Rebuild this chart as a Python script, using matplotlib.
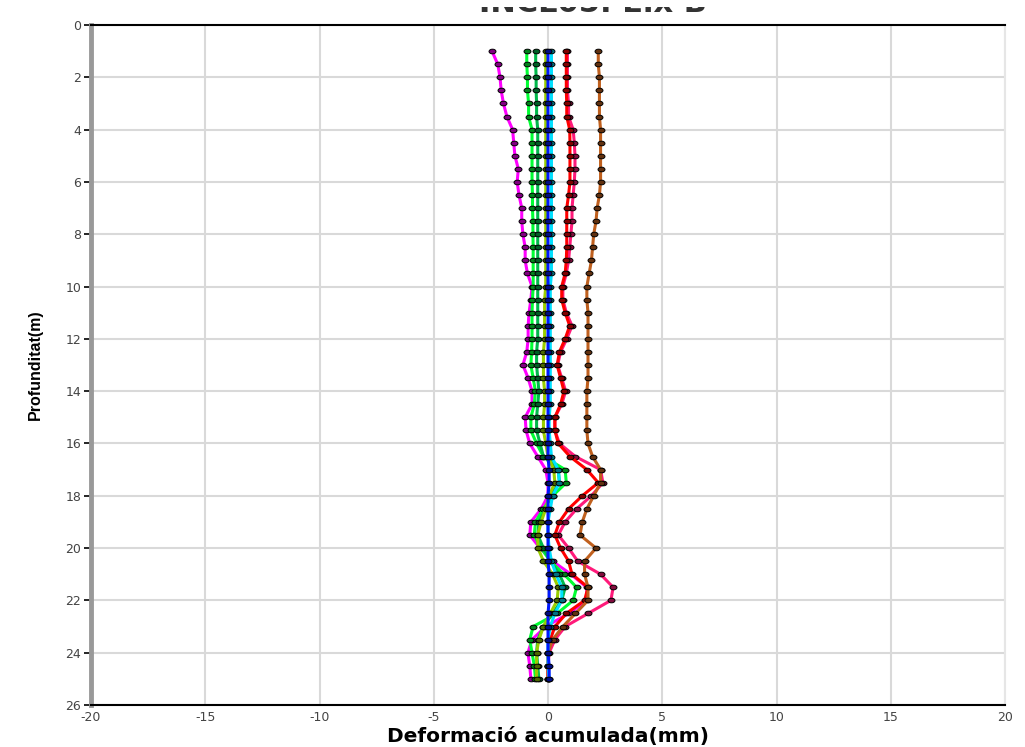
import matplotlib

matplotlib.use("Agg")
import matplotlib.pyplot as plt
from matplotlib.colors import to_rgb
from matplotlib.patches import Rectangle
from matplotlib.path import Path
from matplotlib.transforms import Affine2D

plt.rcParams["axes.unicode_minus"] = False

depths = [1.0, 1.5, 2.0, 2.5, 3.0, 3.5, 4.0, 4.5, 5.0, 5.5, 6.0, 6.5, 7.0, 7.5,
          8.0, 8.5, 9.0, 9.5, 10.0, 10.5, 11.0, 11.5, 12.0, 12.5, 13.0, 13.5,
          14.0, 14.5, 15.0, 15.5, 16.0, 16.5, 17.0, 17.5, 18.0, 18.5, 19.0,
          19.5, 20.0, 20.5, 21.0, 21.5, 22.0, 22.5, 23.0, 23.5, 24.0, 24.5, 25.0]

magenta = [-2.45, -2.2, -2.1, -2.05, -1.95, -1.8, -1.55, -1.5, -1.45, -1.3, -1.35,
           -1.27, -1.15, -1.15, -1.1, -1.0, -1.0, -0.9, -0.7, -0.75, -0.83, -0.87,
           -0.87, -0.93, -1.1, -0.87, -0.7, -0.7, -1.0, -0.96, -0.8, -0.45, -0.1,
           0.0, 0.0, -0.3, -0.75, -0.8, -0.35, 0.2, 1.0, 1.7, 1.7, 0.9, -0.1,
           -0.7, -0.88, -0.8, -0.75]
lime = [-0.93, -0.93, -0.9, -0.9, -0.85, -0.85, -0.7, -0.7, -0.7, -0.7, -0.7,
        -0.68, -0.68, -0.66, -0.66, -0.65, -0.65, -0.65, -0.65, -0.68, -0.7,
        -0.7, -0.7, -0.72, -0.75, -0.65, -0.55, -0.6, -0.75, -0.75, -0.5, -0.2,
        0.75, 0.8, 0.2, -0.2, -0.55, -0.6, -0.3, 0.1, 0.7, 1.25, 1.1, 0.4,
        -0.65, -0.8, -0.7, -0.6, -0.55]
green = [-0.54, -0.54, -0.52, -0.52, -0.5, -0.5, -0.45, -0.45, -0.45, -0.45,
         -0.45, -0.45, -0.45, -0.45, -0.45, -0.45, -0.45, -0.45, -0.45, -0.45,
         -0.45, -0.45, -0.45, -0.5, -0.5, -0.45, -0.4, -0.45, -0.5, -0.5, -0.35,
         -0.2, 0.45, 0.5, 0.1, -0.1, -0.4, -0.45, -0.2, 0.1, 0.5, 0.75, 0.6,
         0.2, -0.2, -0.45, -0.5, -0.45, -0.4]
olive = [-0.1, -0.1, -0.1, -0.1, -0.1, -0.1, -0.1, -0.1, -0.1, -0.1, -0.1,
         -0.1, -0.1, -0.1, -0.1, -0.1, -0.1, -0.1, -0.1, -0.15, -0.15, -0.15,
         -0.15, -0.2, -0.2, -0.2, -0.15, -0.15, -0.2, -0.2, -0.1, 0.0, 0.25,
         0.3, 0.05, -0.1, -0.3, -0.45, -0.44, -0.2, 0.2, 0.45, 0.4, 0.1, -0.2,
         -0.4, -0.5, -0.5, -0.5]
cyan = [0.15, 0.15, 0.15, 0.15, 0.15, 0.15, 0.15, 0.15, 0.15, 0.15, 0.15,
        0.15, 0.15, 0.15, 0.15, 0.15, 0.15, 0.15, 0.1, 0.1, 0.1, 0.1, 0.1, 0.1,
        0.1, 0.1, 0.1, 0.1, 0.05, 0.05, 0.1, 0.15, 0.45, 0.5, 0.2, 0.1, 0.0,
        0.0, 0.05, 0.15, 0.35, 0.6, 0.6, 0.3, 0.1, 0.0, 0.0, 0.0, 0.05]
blue = [0.0, 0.0, 0.0, 0.0, 0.0, 0.0, 0.0, 0.0, 0.0, 0.0, 0.0, 0.0, 0.0, 0.0,
        0.0, 0.0, 0.0, 0.0, 0.0, 0.0, 0.0, 0.0, 0.0, 0.0, 0.0, 0.0, 0.0, 0.0,
        0.0, 0.0, 0.0, 0.0, 0.05, 0.05, 0.0, 0.0, 0.0, 0.0, 0.0, 0.0, 0.05,
        0.05, 0.05, 0.0, 0.0, 0.0, 0.0, 0.05, 0.05]
red = [0.8, 0.8, 0.8, 0.8, 0.82, 0.82, 0.95, 0.96, 0.96, 0.96, 0.96, 0.9, 0.82,
       0.82, 0.82, 0.82, 0.8, 0.75, 0.6, 0.6, 0.75, 0.95, 0.75, 0.5, 0.4, 0.55,
       0.7, 0.55, 0.3, 0.3, 0.45, 0.96, 1.7, 2.2, 1.5, 0.9, 0.5, 0.3, 0.55, 0.9,
       1.05, 1.75, 1.6, 0.8, 0.3, 0.1, 0.0, 0.0, 0.0]
pink = [0.85, 0.85, 0.85, 0.85, 0.9, 0.9, 1.1, 1.15, 1.18, 1.18, 1.15, 1.1, 1.05,
        1.05, 1.0, 0.95, 0.9, 0.8, 0.65, 0.65, 0.8, 1.05, 0.82, 0.55, 0.42, 0.6,
        0.77, 0.6, 0.3, 0.3, 0.5, 1.2, 2.3, 2.4, 1.9, 1.25, 0.75, 0.45, 0.9, 1.3,
        2.3, 2.85, 2.75, 1.75, 0.75, 0.3, 0.05, 0.0, 0.0]
brown = [2.2, 2.2, 2.25, 2.25, 2.25, 2.25, 2.3, 2.3, 2.3, 2.3, 2.3, 2.25, 2.15,
         2.1, 2.0, 1.95, 1.9, 1.8, 1.7, 1.7, 1.75, 1.75, 1.75, 1.75, 1.75, 1.75,
         1.7, 1.7, 1.7, 1.7, 1.75, 1.95, 2.3, 2.3, 2.0, 1.7, 1.5, 1.4, 2.1, 1.6,
         1.6, 1.75, 1.75, 1.2, 0.65, 0.2, 0.0, 0.0, 0.0]

series = [
    (magenta, "#ff00ff"),
    (lime, "#00ff33"),
    (green, "#00b84a"),
    (olive, "#9acd00"),
    (pink, "#ff1a7a"),
    (red, "#ff0000"),
    (brown, "#c0601e"),
    (cyan, "#00e0ff"),
    (blue, "#0018ff"),
]

x_ticks = [-20, -15, -10, -5, 0, 5, 10, 15, 20]
y_ticks = [0, 2, 4, 6, 8, 10, 12, 14, 16, 18, 20, 22, 24, 26]

# slightly wide ellipse markers, like the original
ellipse = Path.unit_circle().transformed(Affine2D().scale(1.5, 1.0))


def _dark(c, f=0.5):
    r, g, b = to_rgb(c)
    return (r * f, g * f, b * f)


fig = plt.figure(figsize=(10.25, 7.47), dpi=100)
ax = fig.add_axes([0.0888, 0.0562, 0.8917, 0.9103])

for vals, col in series:
    ax.plot(vals, depths, color=col, lw=2.2, marker=ellipse, ms=5,
            mfc=_dark(col), mec="black", mew=0.7, zorder=3)

ax.set_xlim(-20, 20)
ax.set_ylim(26, 0)
ax.set_xticks(x_ticks)
ax.set_yticks(y_ticks)
ax.grid(True, color="#d9d9d9", lw=1.5, zorder=0)
ax.set_axisbelow(True)

ax.tick_params(axis="x", length=0, pad=4, labelsize=9, labelcolor="#444444")
ax.tick_params(axis="y", length=5, width=1.2, color="black", pad=2,
               labelsize=9, labelcolor="#444444")

ax.spines["left"].set_color("#999999")
ax.spines["left"].set_linewidth(3.5)
ax.spines["top"].set_color("black")
ax.spines["top"].set_linewidth(1.5)
ax.spines["bottom"].set_color("black")
ax.spines["bottom"].set_linewidth(1.5)
ax.spines["right"].set_color("#e6e6e6")
ax.spines["right"].set_linewidth(1.5)

ax.set_xlabel("Deformació acumulada(mm)", fontsize=14.5, fontweight="bold")
ax.xaxis.set_label_coords(0.5, -0.047)
ax.xaxis.label.set_va("center")
ax.set_ylabel("Profunditat(m)", fontsize=11.5, fontweight="bold",
              family=["Liberation Sans", "DejaVu Sans"])
ax.yaxis.set_label_coords(-0.061, 0.5)
ax.yaxis.label.set_va("center")

# title: in the original only the lower sliver of it shows under a white band
fig.text(0.578, 1 - 12 / 747, "INCL05. Eix B", ha="center", va="baseline",
         fontsize=22, fontweight="bold", color="#333333", zorder=2)
fig.patches.append(Rectangle((0, 1 - 7 / 747), 1, 7 / 747, transform=fig.transFigure,
                             facecolor="white", edgecolor="none", zorder=5))

fig.savefig("out.png", dpi=100)
